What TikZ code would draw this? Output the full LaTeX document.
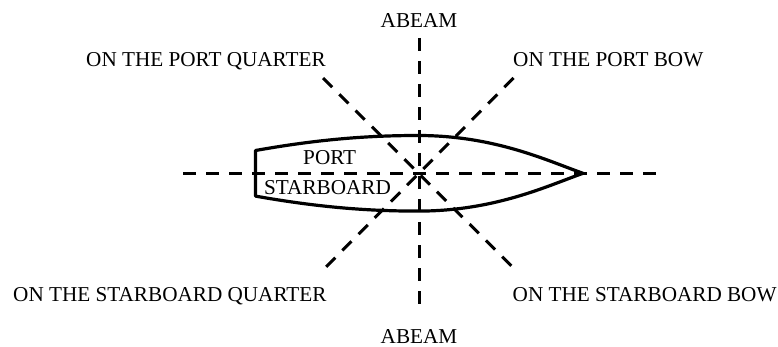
\documentclass[tikz,border=0pt]{standalone}
\usepackage{fontspec}
\setmainfont{Liberation Serif}
\usetikzlibrary{calc}
\tikzset{
  bearing/.style={dash pattern=on 13pt off 10pt, line width=3pt},
  hull/.style={line width=3.2pt, line join=round},
  lbl/.style={font=\fontsize{21.2}{25}\selectfont, inner sep=0pt, anchor=base},
  lblw/.style={lbl, anchor=base west},
}

\begin{document}
\begin{tikzpicture}[x=1pt,y=-1pt]
  \useasboundingbox (0,0) rectangle (778,347);
  % ends of the bearing lines
  \coordinate (aft)  at (183,173.3);
  \coordinate (fwd)  at (657,173.3);
  \coordinate (up)   at (419,38);
  \coordinate (down) at (419,309);
  \coordinate (pq)   at (323,78);
  \coordinate (sb)   at (515,269.5);
  \coordinate (pb)   at (513.5,78);
  \coordinate (sq)   at (323.5,269.5);
  \foreach \a/\b in {aft/fwd, up/down, pq/sb, pb/sq}{
    \draw[bearing] (\a) -- (\b);
  }
  % hull
  \draw[hull] (255.5,150.5) .. controls (320,139) and (370,135.5) .. (418,135.5)
    .. controls (495,135.5) and (548,161) .. (583,173.3)
    .. controls (548,185.6) and (495,211.1) .. (418,211.1)
    .. controls (370,211.1) and (320,207.6) .. (255.5,196.1) -- cycle;
  % labels
  \node[lbl] (abeamN) at (419,27.3) {ABEAM};
  \node[lbl] (abeamS) at (419,343) {ABEAM};
  \node[lblw] (portqtr) at (86,66.7) {ON THE PORT QUARTER};
  \node[lblw] (portbow) at (513,66.7) {ON THE PORT BOW};
  \node[lblw] (stbdqtr) at (13,301.3) {ON THE STARBOARD QUARTER};
  \node[lblw] (stbdbow) at (512.5,301) {ON THE STARBOARD BOW};
  \node[lbl] (port) at (329.7,165) {PORT};
  \node[lbl] (stbd) at (327.5,195) {STARBOARD};
\end{tikzpicture}
\end{document}
